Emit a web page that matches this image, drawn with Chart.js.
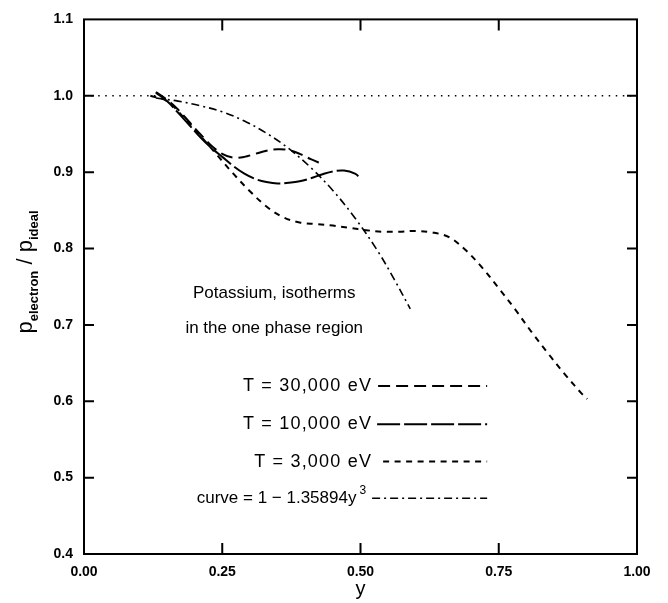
<!DOCTYPE html>
<html>
<head>
<meta charset="utf-8">
<script src="https://cdn.jsdelivr.net/npm/chart.js@4"></script>
<style>
  html, body { margin: 0; padding: 0; background: #fff; }
  canvas { display: block; }
</style>
</head>
<body>
<canvas id="chart" width="668" height="603"></canvas>
<script>
// reference line p/p_ideal = 1
const refX = [0.0, 1.0];
const refY = [1.0, 1.0];

// T = 30,000 eV
const y30k = [0.13, 0.15, 0.17, 0.19, 0.21, 0.23, 0.25, 0.27, 0.29, 0.31, 0.33, 0.35, 0.37, 0.39, 0.41, 0.43];
const p30k = [1.005, 0.995, 0.982, 0.966, 0.950, 0.935, 0.924, 0.919, 0.920, 0.924, 0.928, 0.930, 0.929, 0.924, 0.917, 0.911];

// T = 10,000 eV
const y10k = [0.13, 0.15, 0.17, 0.19, 0.21, 0.23, 0.25, 0.27, 0.29, 0.31, 0.33, 0.35, 0.37, 0.39, 0.41, 0.43, 0.45, 0.47, 0.49, 0.50];
const p10k = [1.004, 0.993, 0.978, 0.962, 0.946, 0.932, 0.920, 0.908, 0.898, 0.891, 0.887, 0.885, 0.886, 0.888, 0.892, 0.897, 0.901, 0.902, 0.898, 0.892];

// T = 3,000 eV
const y3k = [0.12, 0.15, 0.18, 0.21, 0.24, 0.27, 0.30, 0.33, 0.36, 0.39, 0.42, 0.45, 0.48, 0.51, 0.54, 0.57, 0.60, 0.63, 0.66, 0.69, 0.72, 0.75, 0.78, 0.81, 0.84, 0.87, 0.90, 0.91];
const p3k = [1.000, 0.993, 0.972, 0.948, 0.923, 0.898, 0.875, 0.855, 0.841, 0.834, 0.832, 0.830, 0.827, 0.824, 0.822, 0.822, 0.823, 0.821, 0.815, 0.798, 0.775, 0.748, 0.720, 0.690, 0.662, 0.635, 0.610, 0.603];

// curve = 1 - 1.35894 y^3
const yFit = [0.13, 0.17, 0.21, 0.25, 0.29, 0.33, 0.37, 0.41, 0.45, 0.49, 0.53, 0.56, 0.59];
const pFit = [0.997, 0.993, 0.987, 0.979, 0.967, 0.951, 0.931, 0.906, 0.876, 0.840, 0.798, 0.761, 0.721];

const xTickVals = [0.25, 0.50, 0.75];
const yTickVals = [0.5, 0.6, 0.7, 0.8, 0.9, 1.0];

const legendLabels = ["T = 30,000 eV", "T = 10,000 eV", "T = 3,000 eV"];

function pts(xs, ys) {
    return xs.map((x, i) => ({ x: x, y: ys[i] }))
}

const dash30k = [12, 6]
const dash10k = [23, 4]
const dash3k = [6, 5.5]
const dashFit = [8, 4, 2, 4]

const textFont = '17px "Liberation Sans", sans-serif'
const rowFont = '18px "Liberation Sans", sans-serif'

const decor = {
    id: "decor",
    afterDraw(chart) {
        const ctx = chart.ctx
        const a = chart.chartArea
        const sx = chart.scales.x
        const sy = chart.scales.y
        ctx.save()
        ctx.strokeStyle = "#000"
        ctx.fillStyle = "#000"

        // frame
        ctx.lineWidth = 2
        ctx.strokeRect(a.left, a.top, a.right - a.left, a.bottom - a.top)

        // inward ticks
        ctx.beginPath()
        yTickVals.forEach(v => {
            const py = sy.getPixelForValue(v)
            ctx.moveTo(a.left, py); ctx.lineTo(a.left + 10, py)
            ctx.moveTo(a.right, py); ctx.lineTo(a.right - 10, py)
        })
        xTickVals.forEach(v => {
            const px = sx.getPixelForValue(v)
            ctx.moveTo(px, a.bottom); ctx.lineTo(px, a.bottom - 11)
            ctx.moveTo(px, a.top); ctx.lineTo(px, a.top + 11)
        })
        ctx.stroke()

        // x title
        ctx.font = '20px "Liberation Sans", sans-serif'
        ctx.textAlign = "center"
        ctx.textBaseline = "middle"
        ctx.fillText("y", (a.left + a.right) / 2, 589)

        // y title with subscripts
        ctx.save()
        ctx.translate(30, 272)
        ctx.rotate(-Math.PI / 2)
        ctx.textAlign = "left"
        ctx.textBaseline = "alphabetic"
        const big = '22px "Liberation Sans", sans-serif'
        const small = 'bold 13px "Liberation Sans", sans-serif'
        const parts = [
            [big, "p", 0], [small, "electron", 6], [big, " / ", 0],
            [big, "p", 0], [small, "ideal", 6]
        ]
        let total = 0
        parts.forEach(p => { ctx.font = p[0]; total += ctx.measureText(p[1]).width })
        let cx = -total / 2
        parts.forEach(p => {
            ctx.font = p[0]
            ctx.fillText(p[1], cx, 2 + p[2])
            cx += ctx.measureText(p[1]).width
        })
        ctx.restore()

        // legend block
        ctx.font = textFont
        ctx.textBaseline = "middle"
        ctx.textAlign = "center"
        const cxText = sx.getPixelForValue(0.344)
        ctx.fillText("Potassium, isotherms", cxText, sy.getPixelForValue(0.741))
        ctx.fillText("in the one phase region", cxText, sy.getPixelForValue(0.695))

        const lineEnd = sx.getPixelForValue(0.729)
        const textEnd = sx.getPixelForValue(0.521)
        const rows = [0.620, 0.570, 0.521, 0.473]
        const dashes = [dash30k, dash10k, dash3k, dashFit]
        const widths = [2, 2, 2, 1.6]

        ctx.font = rowFont
        ctx.letterSpacing = "1.2px"
        ctx.textAlign = "right"
        legendLabels.forEach((lab, i) => {
            ctx.fillText(lab, textEnd, sy.getPixelForValue(rows[i]))
        })
        ctx.letterSpacing = "0px"
        // curve formula with superscript
        const fy = sy.getPixelForValue(rows[3])
        ctx.font = '12px "Liberation Sans", sans-serif'
        const supW = ctx.measureText("3").width
        ctx.textAlign = "left"
        ctx.fillText("3", textEnd - supW - 6, fy - 8)
        ctx.font = textFont
        ctx.textAlign = "right"
        ctx.fillText("curve = 1 \u2212 1.35894y", textEnd - supW - 9, fy)

        const starts = [textEnd + 6, textEnd + 5, textEnd + 11, textEnd]
        rows.forEach((r, i) => {
            const py = sy.getPixelForValue(r)
            ctx.lineWidth = widths[i]
            ctx.setLineDash(dashes[i])
            ctx.beginPath()
            ctx.moveTo(starts[i], py)
            ctx.lineTo(lineEnd, py)
            ctx.stroke()
        })
        ctx.restore()
    }
}

function series(xs, ys, dash, w) {
    return {
        data: pts(xs, ys),
        borderColor: "#000",
        borderWidth: w,
        borderDash: dash,
        pointRadius: 0,
        fill: false,
        tension: 0.35
    }
}

const config = {
    type: "line",
    data: {
        datasets: [
            series(refX, refY, [1.5, 5.5], 1.3),
            series(y30k, p30k, dash30k, 2),
            series(y10k, p10k, dash10k, 2),
            series(y3k, p3k, dash3k, 2),
            series(yFit, pFit, dashFit, 1.6)
        ]
    },
    options: {
        responsive: false,
        animation: false,
        layout: { padding: { left: 0, right: 31, top: 10, bottom: 0 } },
        plugins: {
            legend: { display: false },
            tooltip: { enabled: false }
        },
        scales: {
            x: {
                type: "linear",
                min: 0,
                max: 1,
                grid: { display: false, drawTicks: false },
                border: { display: false },
                ticks: {
                    stepSize: 0.25,
                    padding: 10,
                    color: "#000",
                    font: { family: "Liberation Sans", size: 14, weight: "bold" },
                    callback: v => v.toFixed(2)
                },
                afterFit(scale) { scale.height = 49 }
            },
            y: {
                type: "linear",
                min: 0.4,
                max: 1.1,
                grid: { display: false, drawTicks: false },
                border: { display: false },
                ticks: {
                    stepSize: 0.1,
                    padding: 11,
                    color: "#000",
                    font: { family: "Liberation Sans", size: 14, weight: "bold" },
                    callback: v => v.toFixed(1)
                },
                afterFit(scale) { scale.width = 84 }
            }
        }
    },
    plugins: [decor]
}

new Chart(document.getElementById("chart"), config)
</script>
</body>
</html>
